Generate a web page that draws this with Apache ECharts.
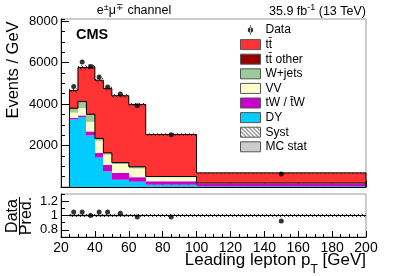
<!DOCTYPE html>
<html><head><meta charset="utf-8">
<script src="https://cdn.jsdelivr.net/npm/echarts@6/dist/echarts.min.js"></script>
<style>html,body{margin:0;padding:0;background:#fff}#c{width:407px;height:276px}</style>
</head><body><div id="c"></div>
<script>
// ---- data (Events / GeV) ----
const binEdges = [25, 30, 35, 40, 45, 50, 60, 70, 100, 200];
const dataVals = [4850, 6030, 5810, 5300, 4820, 4480, 3920, 2520, 630];
const ttbar    = [850, 1635, 2280, 2805, 3100, 3225, 3005, 2024, 490];
const ttOther  = [30, 35, 30, 25, 20, 15, 15, 10, 10];
const wjets    = [180, 290, 340, 90, 73, 52, 64, 24, 5];
const vv       = [260, 350, 460, 590, 497, 433, 424, 192, 35];
const tw       = [70, 80, 190, 220, 310, 323, 217, 169, 100];
const dy       = [3260, 3370, 2490, 1420, 750, 352, 255, 111, 40];
const ratioVals = [1.05, 1.05, 1.0, 1.05, 1.05, 1.03, 0.98, 0.98, 0.925];
const systRel   = [0.02, 0.02, 0.02, 0.02, 0.02, 0.02, 0.02, 0.025, 0.025];
const mcStatRel = [0.02, 0.02, 0.02, 0.02, 0.02, 0.02, 0.015, 0.012, 0.012];
const xTickLabels = [20, 40, 60, 80, 100, 120, 140, 160, 180, 200];
const yTicksMain  = [2000, 4000, 6000, 8000];
const yTicksRatio = [0.8, 1, 1.2];

// ---- build stacks ----
const comps = [
  {name: 'DY', vals: dy, color: '#00ccff'},
  {name: 'tW / t\u0304W', vals: tw, color: '#cc00cc'},
  {name: 'VV', vals: vv, color: '#ffffcc'},
  {name: 'W+jets', vals: wjets, color: '#99cc99'},
  {name: 'tt\u0304 other', vals: ttOther, color: '#990000'},
  {name: 'tt\u0304', vals: ttbar, color: '#ff3333'}
];
let cum = binEdges.slice(0, -1).map(() => 0);
comps.forEach(c => { c.lo = cum.slice(); cum = cum.map((v, i) => v + c.vals[i]); c.hi = cum.slice(); });
const total = cum;
const nonTT = comps[4].hi;
const mids = binEdges.slice(0, -1).map((e, i) => (e + binEdges[i + 1]) / 2);

// hatch pattern
const pat = document.createElement('canvas');
pat.width = 4; pat.height = 4;
const g = pat.getContext('2d');
g.strokeStyle = '#000'; g.lineWidth = 0.8;
g.beginPath();
g.moveTo(-1, -1); g.lineTo(5, 5);
g.moveTo(-1, 3); g.lineTo(1, 5);
g.moveTo(3, -1); g.lineTo(5, 1);
g.stroke();
const hatch = {image: pat, repeat: 'repeat'};

function rectSeries(name, color, lo, hi, xi, yi, z) {
  return {
    type: 'custom', name: name, xAxisIndex: xi, yAxisIndex: yi, z: z, clip: true,
    itemStyle: {color: color},
    data: lo.map((l, i) => [binEdges[i], binEdges[i + 1], l, hi[i]]),
    encode: {x: [0, 1], y: [2, 3]},
    renderItem: function (params, api) {
      const p0 = api.coord([api.value(0), api.value(2)]);
      const p1 = api.coord([api.value(1), api.value(3)]);
      const x0 = Math.round(p0[0]), x1 = Math.round(p1[0]);
      const y0 = p0[1], y1 = p1[1];
      return {type: 'rect', shape: {x: x0, y: y1, width: x1 - x0, height: y0 - y1},
        style: {fill: color}};
    }
  };
}
function stepLine(vals, z) {
  const pts = [[binEdges[0], 0]];
  vals.forEach((v, i) => pts.push([binEdges[i], v]));
  pts.push([binEdges[binEdges.length - 1], vals[vals.length - 1]]);
  pts.push([binEdges[binEdges.length - 1], 0]);
  return {type: 'line', step: 'end', data: pts, xAxisIndex: 0, yAxisIndex: 0, z: z,
    symbol: 'none', lineStyle: {color: '#000', width: 1}, silent: true};
}

const series = [];
comps.forEach(c => series.push(rectSeries(c.name, c.color, c.lo, c.hi, 0, 0, 1)));
series.push(stepLine(nonTT, 2));
series.push(stepLine(total, 2));
series.push(rectSeries('Syst', hatch, total.map((t, i) => t * (1 - systRel[i])), total.map((t, i) => t * (1 + systRel[i])), 0, 0, 3));
series.push({type: 'scatter', name: 'Data', xAxisIndex: 0, yAxisIndex: 0, z: 5,
  symbol: 'circle', symbolSize: 5, itemStyle: {color: '#000'},
  data: mids.map((m, i) => [m, dataVals[i]])});
// ratio panel
series.push(rectSeries('MC stat', '#cccccc', mcStatRel.map(m => 1 - m), mcStatRel.map(m => 1 + m), 1, 2, 1));
series.push(rectSeries('Syst ', hatch, systRel.map(s => 1 - s), systRel.map(s => 1 + s), 1, 2, 2));
series.push({type: 'line', data: [[20, 1], [200, 1]], xAxisIndex: 1, yAxisIndex: 2, z: 3,
  symbol: 'none', lineStyle: {color: '#000', width: 1}, silent: true});
series.push({type: 'scatter', name: 'Data ', xAxisIndex: 1, yAxisIndex: 2, z: 5,
  symbol: 'circle', symbolSize: 5, itemStyle: {color: '#000'},
  data: mids.map((m, i) => [m, ratioVals[i]])});

const F = 'Liberation Sans, Arial, sans-serif';
const blk = {color: '#000'};
function xAx(grid, showLabel) {
  return {gridIndex: grid, type: 'value', min: 20, max: 200, interval: 20,
    axisLine: {onZero: false, lineStyle: blk},
    axisTick: {inside: true, length: 6, lineStyle: blk},
    minorTick: {show: true, splitNumber: 4, length: 3, lineStyle: blk},
    axisLabel: {show: showLabel, fontSize: 14, color: '#000', fontFamily: F, margin: 4,
      customValues: xTickLabels, formatter: v => String(v)},
    splitLine: {show: false}, minorSplitLine: {show: false}};
}
const dataIcon = 'path://M7.6,5 A2.4,2.4 0 1,0 12.4,5 A2.4,2.4 0 1,0 7.6,5 Z M9.7,0.5 H10.3 V9.5 H9.7 Z';

const option = {
  animation: false,
  backgroundColor: '#fff',
  textStyle: {fontFamily: F},
  grid: [
    {left: 61, top: 19, width: 305, height: 168, show: true, borderColor: '#999', borderWidth: 1, outerBoundsMode: 'none'},
    {left: 61, top: 194, width: 305, height: 43, show: true, borderColor: '#999', borderWidth: 1, outerBoundsMode: 'none'}
  ],
  xAxis: [xAx(0, false), xAx(1, true)],
  yAxis: [
    {gridIndex: 0, type: 'value', min: 0, max: 8100, interval: 500, position: 'left',
      axisLine: {show: true, onZero: false, lineStyle: blk},
      axisTick: {inside: true, length: 4, lineStyle: blk},
      axisLabel: {customValues: yTicksMain, fontSize: 13, color: '#000', fontFamily: F, margin: 3,
        formatter: v => String(v)},
      splitLine: {show: false}},
    {gridIndex: 0, type: 'value', min: 0, max: 8100, position: 'left',
      axisLine: {show: false, onZero: false},
      axisTick: {inside: true, length: 8, lineStyle: blk, customValues: [0].concat(yTicksMain)},
      axisLabel: {show: false}, splitLine: {show: false}},
    {gridIndex: 1, type: 'value', min: 0.7, max: 1.3, interval: 0.1, position: 'left',
      axisLine: {show: true, onZero: false, lineStyle: blk},
      axisTick: {inside: true, length: 4, lineStyle: blk},
      axisLabel: {customValues: yTicksRatio, fontSize: 13, color: '#000', fontFamily: F, margin: 3,
        formatter: v => String(+v.toFixed(2))},
      splitLine: {show: false}},
    {gridIndex: 1, type: 'value', min: 0.7, max: 1.3, position: 'left',
      axisLine: {show: false, onZero: false},
      axisTick: {inside: true, length: 8, lineStyle: blk, customValues: yTicksRatio},
      axisLabel: {show: false}, splitLine: {show: false}}
  ],
  legend: {
    orient: 'vertical', left: 240, top: 24, itemWidth: 20, itemHeight: 10, itemGap: 2.6,
    padding: 0, selectedMode: false,
    textStyle: {fontSize: 12, color: '#000', fontFamily: F},
    itemStyle: {borderColor: '#555', borderWidth: 1},
    data: [
      {name: 'Data', icon: dataIcon, itemStyle: {borderWidth: 0, color: '#000'}},
      {name: 'tt\u0304', icon: 'rect'},
      {name: 'tt\u0304 other', icon: 'rect'},
      {name: 'W+jets', icon: 'rect'},
      {name: 'VV', icon: 'rect'},
      {name: 'tW / t\u0304W', icon: 'rect'},
      {name: 'DY', icon: 'rect'},
      {name: 'Syst', icon: 'rect'},
      {name: 'MC stat', icon: 'rect'}
    ]
  },
  graphic: [
    {type: 'text', x: 134, y: 11, style: {text: 'e{s|±}μ{s|∓} channel', fill: '#000',
      fontSize: 12.5, fontFamily: F, textAlign: 'center', textVerticalAlign: 'middle',
      rich: {s: {fontSize: 9, fontFamily: F, padding: [0, 0, 7, 0]}}}},
    {type: 'text', x: 366, y: 11.5, style: {text: '35.9 fb{s|-1} (13 TeV)', fill: '#000',
      fontSize: 12.5, fontFamily: F, textAlign: 'right', textVerticalAlign: 'middle',
      rich: {s: {fontSize: 9, fontFamily: F, padding: [0, 0, 7, 0]}}}},
    {type: 'text', x: 76, y: 35, style: {text: 'CMS', fill: '#000', fontSize: 14.5,
      fontWeight: 'bold', fontFamily: F, textAlign: 'left', textVerticalAlign: 'middle'}},
    {type: 'text', x: 13, y: 70, rotation: Math.PI / 2, style: {text: 'Events / GeV', fill: '#000',
      fontSize: 16.5, fontFamily: F, textAlign: 'center', textVerticalAlign: 'middle'}},
    {type: 'text', x: 12.5, y: 216, rotation: Math.PI / 2, style: {text: 'Data', fill: '#000',
      fontSize: 16, fontFamily: F, textAlign: 'center', textVerticalAlign: 'middle'}},
    {type: 'text', x: 27, y: 216, rotation: Math.PI / 2, style: {text: 'Pred.', fill: '#000',
      fontSize: 16, fontFamily: F, textAlign: 'center', textVerticalAlign: 'middle'}},
    {type: 'line', shape: {x1: 19.5, y1: 197, x2: 19.5, y2: 235}, style: {stroke: '#000', lineWidth: 1}},
    {type: 'text', x: 366, y: 260, style: {text: 'Leading lepton p{t|T} [GeV]', fill: '#000',
      fontSize: 17, fontFamily: F, textAlign: 'right', textVerticalAlign: 'middle',
      rich: {t: {fontSize: 12, fontFamily: F, padding: [20, 0, 0, 0]}}}}
  ],
  series: series
};
const chart = echarts.init(document.getElementById('c'), null, {renderer: 'canvas'});
chart.setOption(option);
</script></body></html>
